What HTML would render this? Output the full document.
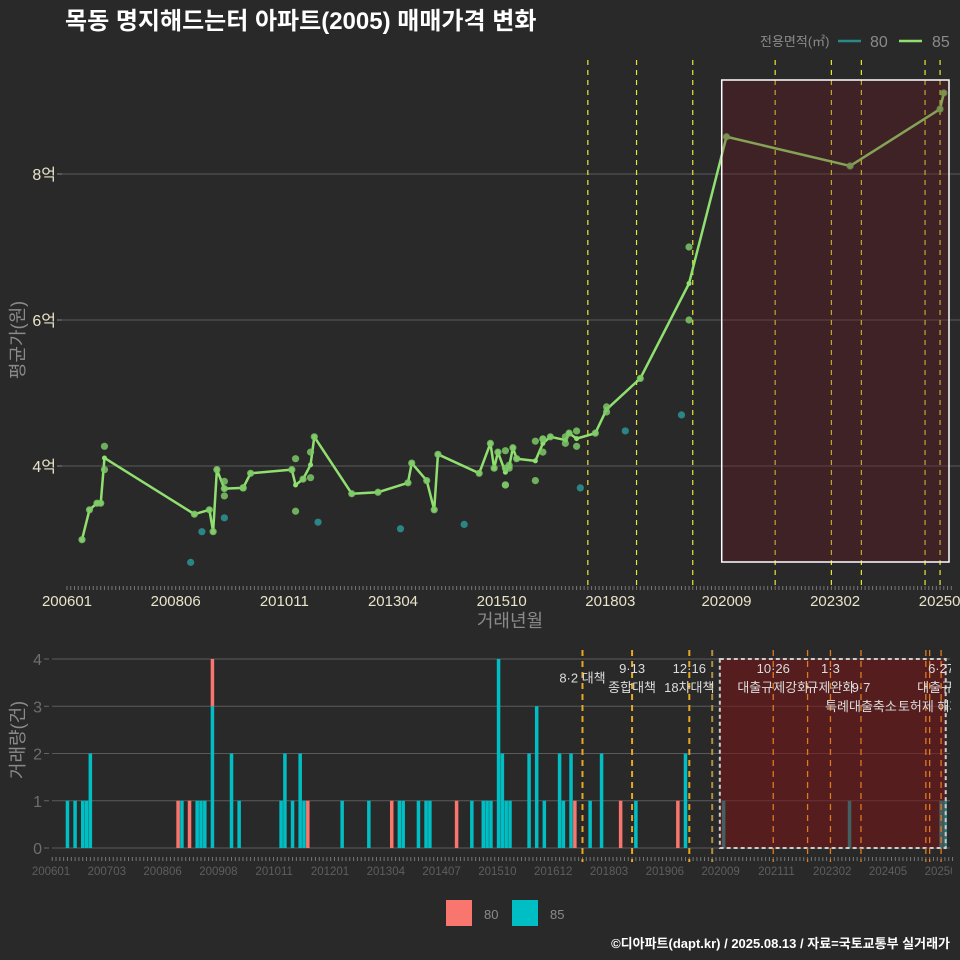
<!DOCTYPE html>
<html><head><meta charset="utf-8"><style>
html,body{margin:0;padding:0;background:#2a292a;}
svg{display:block;font-family:"Liberation Sans","Noto Sans CJK KR",sans-serif;}
</style></head><body>
<svg id="chart" width="960" height="960" viewBox="0 0 960 960" xmlns="http://www.w3.org/2000/svg">
<rect x="0" y="0" width="960" height="960" fill="#2a292a"/>
<text x="65" y="29" fill="#ffffff" font-size="24" font-weight="bold">목동 명지해드는터 아파트(2005) 매매가격 변화</text>
<g>
<text x="760" y="46" fill="#8a8a8a" font-size="13">전용면적(㎡)</text>
<line x1="838" y1="41" x2="861" y2="41" stroke="#2a8a8a" stroke-width="2.5"/>
<text x="870" y="47" fill="#8a8a8a" font-size="16">80</text>
<line x1="899" y1="41" x2="922" y2="41" stroke="#90e070" stroke-width="2.5"/>
<text x="932" y="47" fill="#8a8a8a" font-size="16">85</text>
</g>
<g id="topPanel"></g>
<g id="botPanel"></g>
<text x="510" y="627" fill="#8a8a8a" font-size="18" text-anchor="middle">거래년월</text>
<text transform="translate(24,340) rotate(-90)" fill="#8a8a8a" font-size="18" text-anchor="middle">평균가(원)</text>
<text transform="translate(24,740) rotate(-90)" fill="#8a8a8a" font-size="18" text-anchor="middle">거래량(건)</text>
<g>
<rect x="446" y="900" width="26" height="26" fill="#f8766d"/>
<text x="484" y="919" fill="#8a8a8a" font-size="13">80</text>
<rect x="512" y="900" width="26" height="26" fill="#00bfc4"/>
<text x="550" y="919" fill="#8a8a8a" font-size="13">85</text>
</g>
<text x="950" y="948" fill="#ffffff" font-size="13" font-weight="bold" text-anchor="end">©디아파트(dapt.kr) / 2025.08.13 / 자료=국토교통부 실거래가</text>
</svg>
<script>
// month index: 0 = 2006-01
const months85 = [4,6,8,9,10,10,34,38,39,40,42,42,42,47,47,49,60,61,61,63,65,65,66,76,83,91,92,96,98,99,110,113,114,115,117,117,117,117,118,118,119,120,125,125,127,127,127,129,133,133,134,136,136,141,144,144,153,166,166,176,209,233,234];
const values85 = [2.99,3.40,3.49,3.49,3.95,4.27,3.34,3.40,3.10,3.95,3.79,3.59,3.69,3.70,3.70,3.90,3.95,4.10,3.38,3.82,4.19,3.84,4.40,3.62,3.64,3.77,4.04,3.80,3.40,4.16,3.90,4.31,3.97,4.19,4.21,3.97,3.74,3.74,4.01,3.97,4.25,4.10,3.80,4.34,4.37,4.19,4.37,4.40,4.40,4.31,4.45,4.48,4.27,4.45,4.81,4.74,5.20,7.00,6.00,8.51,8.11,8.89,9.11];
const months80 = [33,36,42,67,89,106,137,149,164];
const values80 = [2.68,3.10,3.29,3.23,3.14,3.20,3.70,4.48,4.70];
const topTickValues = [4,6,8];
const topTickLabels = ["4억","6억","8억"];
const topXLabels = ["200601","200806","201011","201304","201510","201803","202009","202302","202507"];
const topXLabelMonths = [0,29,58,87,116,145,176,205,234];
const botXLabels = ["200601","200703","200806","200908","201011","201201","201304","201407","201510","201612","201803","201906","202009","202111","202302","202405","202507"];
const botTickValues = [0,1,2,3,4];
const policyTop = [139,152,167,189,204,212,229,233];
const policyBot = [139,152,167,173,189,198,204,212,229,230,233];
const annoMonths = [139,152,152,167,167,189,189,204,204,212,212,230,233,233];
const annoRows = [0.5,0,1,0,1,0,1,0,1,1,2,2,0,1];
const annoTexts = ["8·2 대책","9·13","종합대책","12·16","18차대책","10·26","대출규제강화","1·3","규제완화","9·7","특례대출축소","토허제 해제","6·27","대출규제"];
const shadeStart = 175, shadeEnd = 235;

const NS = "http://www.w3.org/2000/svg";
function mk(tag, attrs, parent){const e=document.createElementNS(NS,tag);for(const k in attrs)e.setAttribute(k,attrs[k]);parent.appendChild(e);return e;}
const topG = document.getElementById('topPanel'), botG = document.getElementById('botPanel');
const tx = m => 67 + m*3.747;
const ty = v => 466 - (v-4)*73;
const bx = m => 52.2 + m*3.815;
const by = c => 848 - c*47.25;

topTickValues.forEach((v,i)=>{
  const g = mk('line',{x1:62,x2:960,y1:ty(v),y2:ty(v),stroke:'#5a5a5a','stroke-width':1},topG);
  
  
  const t = mk('text',{x:56,y:ty(v)+6,fill:'#e8e4c8','font-size':16,'text-anchor':'end'},topG);
  t.textContent = topTickLabels[i];
  
  
  mk('line',{x1:57,x2:62,y1:ty(v),y2:ty(v),stroke:'#888'},topG);
});
for(let m=0;m<=236;m++){ mk('line',{x1:tx(m),x2:tx(m),y1:586,y2:590,stroke:'#777','stroke-width':1},topG); }
topXLabels.forEach((l,i)=>{
  const t = mk('text',{x:tx(topXLabelMonths[i]),y:606,fill:'#e8e4c8','font-size':15,'text-anchor':'middle'},topG);
  t.textContent = l;
  
  
});
policyTop.forEach(m=>{
  const l = mk('line',{x1:tx(m),x2:tx(m),y1:60,y2:586,stroke:'#e8e830','stroke-width':1.2,'stroke-dasharray':'5,5'},topG);
  
  
});
months80.forEach((m,i)=>{
  const c = mk('circle',{cx:tx(m),cy:ty(values80[i]),r:3.6,fill:'#2a8585'},topG);
  
  
});
const agg = {};
months85.forEach((m,i)=>{ (agg[m]=agg[m]||[]).push(values85[i]); });
const ms = Object.keys(agg).map(Number).sort((a,b)=>a-b);
const pts = ms.map(m=>[tx(m), ty(agg[m].reduce((a,b)=>a+b,0)/agg[m].length)]);
const line85 = mk('polyline',{points:pts.map(p=>p.join(',')).join(' '),fill:'none',stroke:'#90e070','stroke-width':2.5,'stroke-linejoin':'round'},topG);


pts.forEach(p=>{ mk('circle',{cx:p[0],cy:p[1],r:2.5,fill:'#90e070'},topG); });
months85.forEach((m,i)=>{
  const c = mk('circle',{cx:tx(m),cy:ty(values85[i]),r:3.6,fill:'#7cc866','fill-opacity':0.85},topG);
  
  
});
const box = mk('rect',{x:tx(shadeStart)-1,y:80,width:949-(tx(shadeStart)-1),height:482,fill:'rgb(110,20,25)','fill-opacity':0.3,stroke:'#ffffff','stroke-width':1.5},topG);



botTickValues.forEach(v=>{
  const g = mk('line',{x1:52,x2:950,y1:by(v),y2:by(v),stroke:'#5a5a5a','stroke-width':1},botG);
  
  
  const t = mk('text',{x:42,y:by(v)+6,fill:'#6e6e6e','font-size':16,'text-anchor':'end'},botG);
  t.textContent = v;
  
  
  mk('line',{x1:44,x2:49,y1:by(v),y2:by(v),stroke:'#666'},botG);
});
for(let m=0;m<=236;m++){ mk('line',{x1:bx(m),x2:bx(m),y1:857,y2:861,stroke:'#777','stroke-width':1},botG); }
const cpl = mk('clipPath',{id:'clipl'},botG);
mk('rect',{x:0,y:860,width:952,height:30},cpl);
const lg = mk('g',{'clip-path':'url(#clipl)'},botG);
botXLabels.forEach((l,i)=>{
  const t = mk('text',{x:51 + i*55.8,y:875,fill:'#5e5e5e','font-size':11.5,'text-anchor':'middle'},lg);
  t.textContent = l;
  
  
});
const c85 = {}, c80 = {};
months85.forEach(m=>{c85[m]=(c85[m]||0)+1;});
months80.forEach(m=>{c80[m]=(c80[m]||0)+1;});
const bw = 3.5;
Object.keys(c85).map(Number).forEach(m=>{
  const r = mk('rect',{x:bx(m)-bw/2,y:by(c85[m]),width:bw,height:by(0)-by(c85[m]),fill:'#00bfc4'},botG);
  
  
});
Object.keys(c80).map(Number).forEach(m=>{
  const base = c85[m]||0;
  const r = mk('rect',{x:bx(m)-bw/2,y:by(base+c80[m]),width:bw,height:by(base)-by(base+c80[m]),fill:'#f8766d'},botG);
  
  
});
const box2 = mk('rect',{x:bx(shadeStart),y:by(4),width:bx(shadeEnd)-bx(shadeStart)-3,height:by(0)-by(4),fill:'rgb(120,20,20)','fill-opacity':0.55,stroke:'#cccccc','stroke-width':2,'stroke-dasharray':'4,3'},botG);


policyBot.forEach(m=>{
  const inBox = m>=shadeStart;
  const l = mk('line',{x1:bx(m),x2:bx(m),y1:650,y2:862,stroke:m===173?'#b09040':(inBox?'#e07a20':'#e8a820'),'stroke-width':inBox?1.3:2,'stroke-dasharray':'6,5'},botG);
  
  
});
const cp = mk('clipPath',{id:'clipb'},botG);
mk('rect',{x:0,y:640,width:951,height:230},cp);
const ag = mk('g',{'clip-path':'url(#clipb)'},botG);
annoTexts.forEach((s,i)=>{
  const x = bx(annoMonths[i]);
  const t = mk('text',{x:x,y:673+annoRows[i]*19,fill:'#dddddd','font-size':13,'text-anchor':'middle'},ag);
  t.textContent = s;
  
  
});
</script>
</body></html>
